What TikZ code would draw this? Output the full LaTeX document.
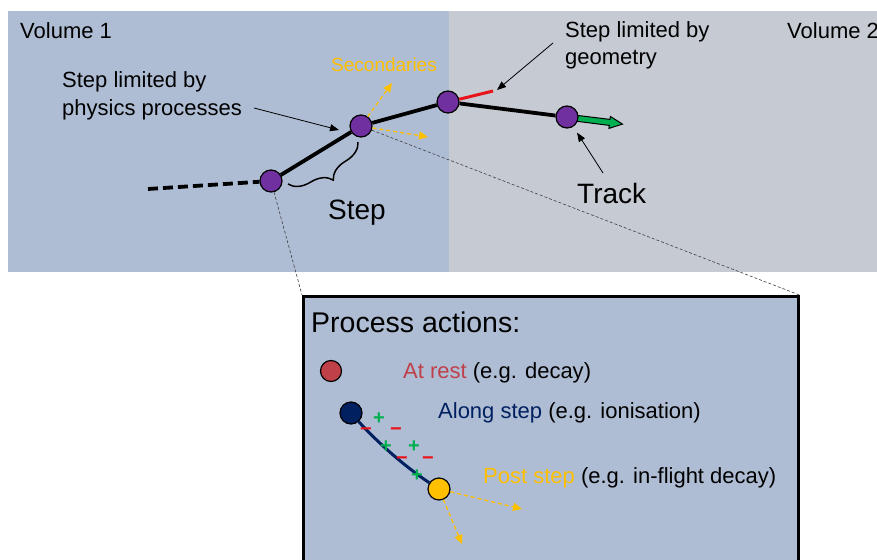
\documentclass[tikz,border=0pt]{standalone}
\usepackage{fontspec}
\setmainfont{Liberation Sans}
\usetikzlibrary{arrows.meta,decorations.pathreplacing,calc}
\definecolor{volA}{HTML}{AFBDD4}
\definecolor{volB}{HTML}{C5CAD3}
\definecolor{purp}{HTML}{7030A0}
\definecolor{amber}{HTML}{FFC000}
\definecolor{navy}{HTML}{002060}
\definecolor{restred}{HTML}{C0404A}
\definecolor{trkgreen}{HTML}{00B050}
\definecolor{limred}{HTML}{E8141B}
\newcommand\txtsize[1]{\fontsize{#1}{#1}\selectfont}
\begin{document}
\begin{tikzpicture}[x=1pt,y=-1pt,
  lbl/.style={anchor=base west,inner sep=0pt,font=\txtsize{22}},
  biglbl/.style={anchor=base west,inner sep=0pt,font=\txtsize{28}},
  stepdot/.style={circle,draw=black,line width=1.2pt,minimum size=22pt,inner sep=0pt},
  trk/.style={line width=3.8pt},
  thinarr/.style={line width=0.8pt,-{Triangle[length=9pt,width=7pt]}},
  secarr/.style={amber,line width=1.3pt,dash pattern=on 4pt off 3pt,-{Triangle[length=9pt,width=8pt]}},
  zoomline/.style={line width=0.6pt,dash pattern=on 3pt off 2pt,black!75},
  sign/.style={inner sep=0pt,font=\bfseries\txtsize{20}}]
\useasboundingbox (0,0) rectangle (877,559);
\clip (0,0) rectangle (877,559);
\fill[white] (0,0) rectangle (877,559);

% the two volumes
\fill[volA] (8,11) rectangle (449,272);
\fill[volB] (449,11) rectangle (885,272);
\node[lbl] (vol1) at (20,39) {Volume 1};
\node[lbl] (vol2) at (787,39) {Volume 2};

% green block arrow showing the track direction
\filldraw[fill=trkgreen,draw=black,line width=1pt]
  (576.5,115.3) -- (610.0,119.4) -- (610.4,116.5) -- (622.5,124.1)
  -- (608.9,128.4) -- (609.3,125.4) -- (576.0,121.2) -- cycle;

% step points
\node[stepdot,fill=purp] (p1) at (271,181) {};
\node[stepdot,fill=purp] (p2) at (361,126) {};
\node[stepdot,fill=purp] (p3) at (448,102) {};
\node[stepdot,fill=purp] (p4) at (567,117) {};
\coordinate (tstart) at (148,189);
\coordinate (geoend) at (493,91);

\draw[trk,dash pattern=on 10pt off 5pt] (tstart) -- (p1);
\draw[trk] (p1) -- (p2);
\draw[trk] (p2) -- (p3);
\draw[trk] (p3) -- (p4);
\draw[limred,line width=3pt] (p3) -- (geoend);

% secondaries
\coordinate (sec1) at (392,83);
\coordinate (sec2) at (428,137);
\draw[secarr] (p2) -- (sec1);
\draw[secarr] (p2) -- (sec2);
\node[anchor=base west,inner sep=0pt,font=\txtsize{19},text=amber] (seclbl) at (331,72) {Secondaries};

% labels with pointers
\node[lbl] (phys1) at (62,88) {Step limited by};
\node[lbl] (phys2) at (62,116) {physics processes};
\coordinate (physA) at (254,108);
\coordinate (physB) at (339,130);
\draw[thinarr] (physA) -- (physB);

\node[lbl] (geo1) at (565,38) {Step limited by};
\node[lbl] (geo2) at (565,65) {geometry};
\coordinate (geoA) at (553,43);
\coordinate (geoB) at (497,90);
\draw[thinarr] (geoA) -- (geoB);

\node[biglbl] (trklbl) at (577,203) {Track};
\coordinate (trkA) at (603,173);
\draw[thinarr,shorten >=7pt] (trkA) -- (p4);

% step brace
\draw[line width=1.5pt,decorate,decoration={brace,amplitude=20pt}] (358,142) -- (288,184);
\node[biglbl] (steplbl) at (328,219) {Step};

% zoomed view of the process actions
\node[draw=black,fill=volA,line width=2.5pt,anchor=north west,
      minimum width=495pt,minimum height=290pt,inner sep=0pt] (pbox) at (302,295) {};
\draw[zoomline] (p1) -- (pbox.north west);
\draw[zoomline] (p2) -- (pbox.north east);
\node[anchor=base west,inner sep=0pt,font=\txtsize{28.5}] (patitle) at (311,332) {Process actions:};

\node[stepdot,fill=restred,minimum size=21pt] (rest) at (331,371) {};
\node[lbl] (restlbl) at (403,378) {\textcolor{restred}{At rest} (e.g. decay)};

\node[stepdot,fill=navy] (along) at (351,413) {};
\node[stepdot,fill=amber] (post) at (439,489) {};
\draw[navy,line width=3pt] (along) .. controls (377,442) and (406,467.5) .. (post);
\node[lbl] (alonglbl) at (438,418) {\textcolor{navy}{Along step} (e.g. ionisation)};
\node[lbl] (postlbl) at (483,483) {\textcolor{amber}{Post step} (e.g. in-flight decay)};

\node[sign,text=trkgreen] (pl1) at (379,419) {+};
\node[sign,text=trkgreen] (pl2) at (386,447) {+};
\node[sign,text=trkgreen] (pl3) at (414,447) {+};
\node[sign,text=trkgreen] (pl4) at (417,476) {+};
\node[sign,text=limred] (mi1) at (366,432) {−};
\node[sign,text=limred] (mi2) at (396,432) {−};
\node[sign,text=limred] (mi3) at (402,461) {−};
\node[sign,text=limred] (mi4) at (428,461) {−};

\coordinate (ps1) at (522,509);
\coordinate (ps2) at (462,544);
\draw[secarr] (post) -- (ps1);
\draw[secarr] (post) -- (ps2);
\end{tikzpicture}
\end{document}
